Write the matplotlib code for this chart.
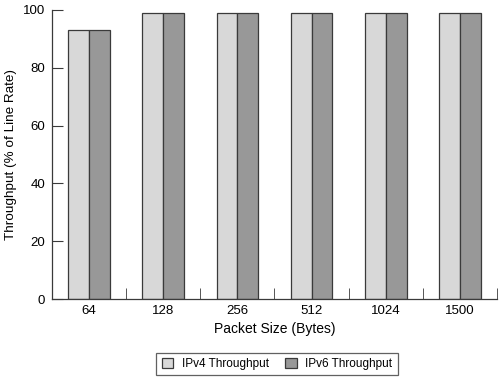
import matplotlib
matplotlib.use("Agg")
import matplotlib.pyplot as plt
import numpy as np

sizes = ["64", "128", "256", "512", "1024", "1500"]
ipv4 = [93, 99, 99, 99, 99, 99]
ipv6 = [93, 99, 99, 99, 99, 99]

plt.rcParams['font.family'] = ['Liberation Sans', 'DejaVu Sans']

fig = plt.figure(figsize=(5.0, 3.81), dpi=100)
ax = fig.add_axes([52/500, 1 - 299/381, (497-52)/500, (299-10)/381])

x = np.arange(len(sizes))
w = 0.28
edge = "#3a3a3a"
ax.bar(x - w/2, ipv4, w, color="#d8d8d8", edgecolor=edge, linewidth=0.9, label="IPv4 Throughput")
ax.bar(x + w/2, ipv6, w, color="#989898", edgecolor=edge, linewidth=0.9, label="IPv6 Throughput")

ax.set_xlim(-0.5, len(sizes) - 0.5)
ax.set_ylim(0, 100)
ax.set_yticks([0, 20, 40, 60, 80, 100])
ax.set_xticks(x)
ax.set_xticklabels(sizes)
ax.set_xticks(np.arange(len(sizes)) + 0.5, minor=True)
ax.tick_params(axis='x', which='major', length=0, pad=4, labelsize=9.5)
ax.tick_params(axis='x', which='minor', direction='in', length=8, color=edge)
ax.tick_params(axis='y', direction='in', length=8, color=edge, pad=5, labelsize=9.5)

for s in ['top', 'right']:
    ax.spines[s].set_visible(False)
for s in ['left', 'bottom']:
    ax.spines[s].set_color(edge)
    ax.spines[s].set_linewidth(0.9)

ax.set_xlabel("Packet Size (Bytes)", fontsize=10)
ax.xaxis.set_label_coords(0.5, -(322 - 299) / 289)
ax.set_ylabel("Throughput (% of Line Rate)", fontsize=9.7)
ax.yaxis.set_label_coords(-(52 - 17) / 445, 0.5)

leg = fig.legend(loc='center', bbox_to_anchor=(277/500, 1 - 364/381), ncol=2, frameon=True,
                 fancybox=False, edgecolor=edge, fontsize=8.5, handlelength=1.0,
                 handleheight=1.0, columnspacing=1.4, handletextpad=0.7, borderpad=0.45)
leg.get_frame().set_linewidth(0.9)

fig.savefig("out.png", dpi=100)
